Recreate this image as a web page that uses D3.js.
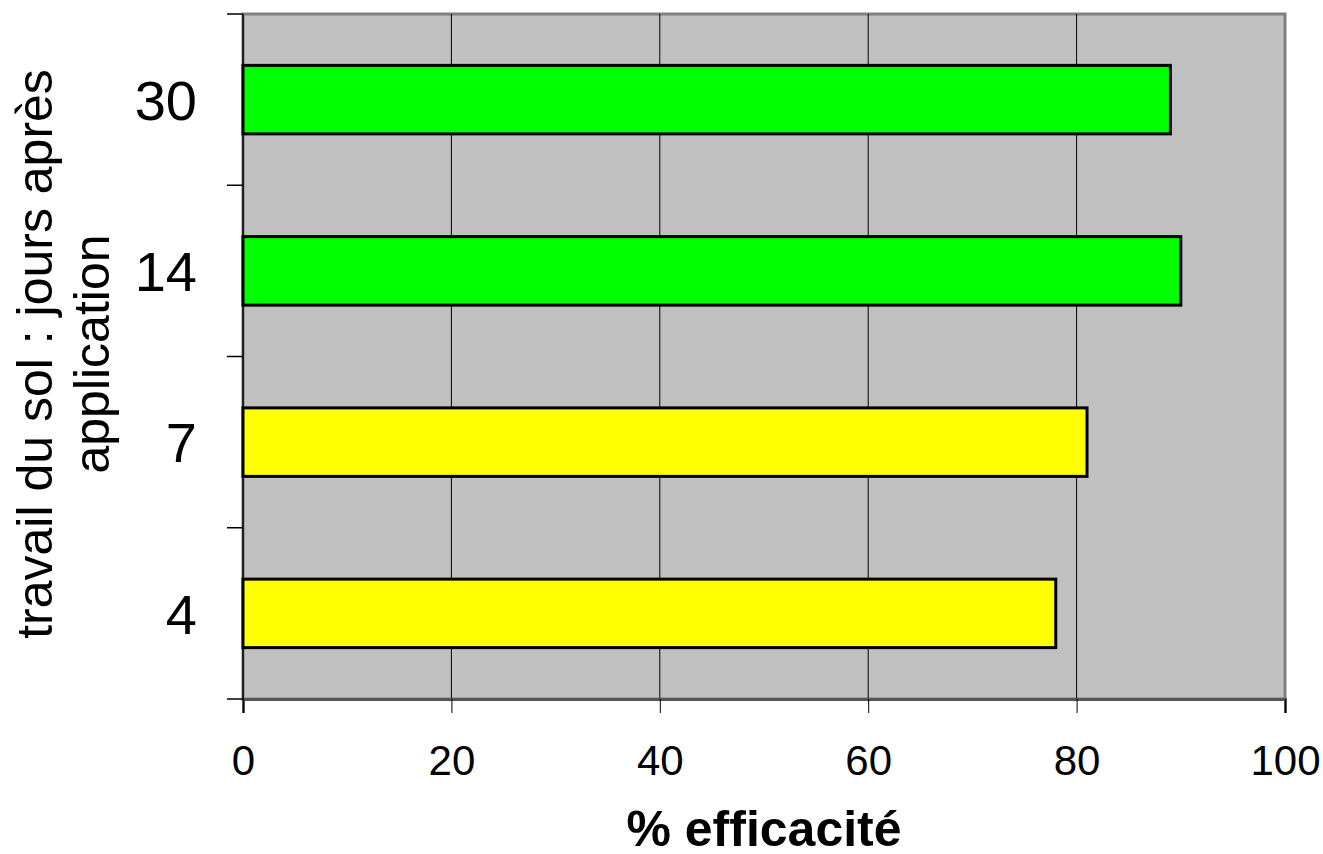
<!DOCTYPE html>
<html>
<head>
<meta charset="utf-8">
<script src="https://cdn.jsdelivr.net/npm/d3@7"></script>
<style>
  body { margin: 0; background: #fff; }
  text { font-family: "Liberation Sans", Arial, sans-serif; fill: #000; }
</style>
</head>
<body>
<script>
// categories bottom -> top
const days = ["4", "7", "14", "30"];
const efficacy = [78, 81, 90, 89];
const barColors = ["#ffff00", "#ffff00", "#00ff00", "#00ff00"];
const xTicks = [0, 20, 40, 60, 80, 100];

const width = 1323, height = 854;
const plot = { left: 243, right: 1285, top: 14, bottom: 699 };

const svg = d3.select("body").append("svg")
    .attr("width", width)
    .attr("height", height);

const x = d3.scaleLinear().domain([0, 100]).range([plot.left, plot.right]);
const y = d3.scaleBand().domain(days).range([plot.bottom, plot.top]).paddingInner(0.6).paddingOuter(0.3);

// plot background
svg.append("rect")
    .attr("x", plot.left).attr("y", plot.top)
    .attr("width", plot.right - plot.left).attr("height", plot.bottom - plot.top)
    .attr("fill", "#c0c0c0")
    .attr("stroke", "#808080").attr("stroke-width", 3);

// vertical grid lines
svg.append("g").selectAll("line")
    .data(xTicks.filter(d => d > 0 && d < 100))
    .join("line")
    .attr("x1", d => x(d)).attr("x2", d => x(d))
    .attr("y1", plot.top).attr("y2", plot.bottom)
    .attr("stroke", "#000").attr("stroke-width", 1);

// bars
svg.append("g").selectAll("rect")
    .data(days)
    .join("rect")
    .attr("x", x(0))
    .attr("y", d => y(d))
    .attr("width", (d, i) => x(efficacy[i]) - x(0))
    .attr("height", y.bandwidth())
    .attr("fill", (d, i) => barColors[i])
    .attr("stroke", "#000").attr("stroke-width", 3);

// x axis
const xAxis = svg.append("g")
    .attr("transform", `translate(0,${plot.bottom})`)
    .call(d3.axisBottom(x).tickValues(xTicks).tickSize(14).tickPadding(32));
xAxis.select(".domain").attr("stroke", "#555").attr("stroke-width", 3);
xAxis.selectAll(".tick line").attr("stroke", "#000");
xAxis.selectAll(".tick text")
    .style("font-family", "Liberation Sans, Arial, sans-serif")
    .style("font-size", "42px")
    .attr("fill", "#000");

// y axis: ticks at band boundaries
const yBounds = d3.range(days.length + 1).map(i => plot.bottom - i * (plot.bottom - plot.top) / days.length);
svg.append("g").selectAll("line")
    .data(yBounds)
    .join("line")
    .attr("x1", plot.left - 16).attr("x2", plot.left)
    .attr("y1", d => d).attr("y2", d => d)
    .attr("stroke", "#000").attr("stroke-width", 1.5);
svg.append("line")
    .attr("x1", plot.left).attr("x2", plot.left)
    .attr("y1", plot.top).attr("y2", plot.bottom)
    .attr("stroke", "#000").attr("stroke-width", 1.5);

svg.append("g").selectAll("text")
    .data(days)
    .join("text")
    .attr("x", 197)
    .attr("y", d => y(d) + y.bandwidth() / 2)
    .attr("dy", "0.36em")
    .attr("text-anchor", "end")
    .style("font-size", "56px")
    .text(d => d);

// axis titles
svg.append("text")
    .attr("x", 764)
    .attr("y", 846)
    .attr("text-anchor", "middle")
    .style("font-size", "50px")
    .style("font-weight", "bold")
    .text("% efficacité");

const yTitle = svg.append("text")
    .attr("transform", `translate(0,354) rotate(-90)`)
    .attr("text-anchor", "middle")
    .style("font-size", "50px");
yTitle.append("tspan").attr("x", 0).attr("y", 52).text("travail du sol : jours après");
yTitle.append("tspan").attr("x", 0).attr("y", 109).text("application");
</script>
</body>
</html>
